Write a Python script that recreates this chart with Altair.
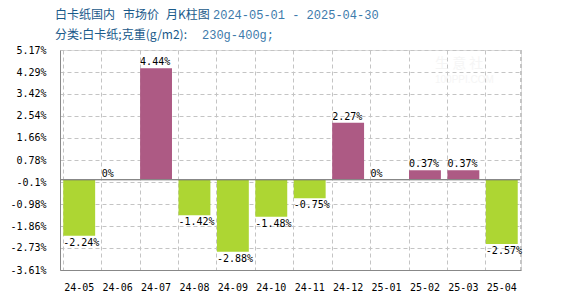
import altair as alt
import pandas as pd

months = ["24-05", "24-06", "24-07", "24-08", "24-09", "24-10",
          "24-11", "24-12", "25-01", "25-02", "25-03", "25-04"]
values = [-2.24, 0, 4.44, -1.42, -2.88, -1.48, -0.75, 2.27, 0, 0.37, 0.37, -2.57]
y_ticks = [5.17, 4.29, 3.42, 2.54, 1.66, 0.78, -0.1, -0.98, -1.86, -2.73, -3.61]

title1_parts = ["白卡纸国内", "市场价", "月K柱图"]
title1_date = "2024-05-01 - 2025-04-30"
title2 = "分类:白卡纸;克重(g/m2):"
title2_val = "230g-400g;"

df = pd.DataFrame({"month": months, "value": values})
df["label"] = [f"{v:g}%" for v in values]
df["sign"] = ["pos" if v >= 0 else "neg" for v in values]

W, H = 461, 220
FONT = "DejaVu Sans Mono"
POS = "#AD5A84"
NEG = "#ADD633"

xscale = alt.Scale(domain=months, paddingInner=0.17, paddingOuter=0.085)
yscale = alt.Scale(domain=[-3.61, 5.17], nice=False, zero=False)

xaxis = alt.Axis(labelAngle=0, ticks=False, grid=True, bandPosition=0,
                 gridDash=[4, 3], gridColor="#c4c4c4", gridWidth=1,
                 domainColor="#888888", labelFont=FONT, labelFontSize=10,
                 labelColor="#000000", labelPadding=12, labelOverlap=False, title=None)
yaxis = alt.Axis(values=y_ticks, ticks=False, grid=True,
                 gridDash=[4, 3], gridColor="#c4c4c4", gridWidth=1,
                 domainColor="#888888", labelFont=FONT, labelFontSize=10,
                 labelColor="#000000", labelPadding=14, labelOverlap=False,
                 labelExpr="datum.value + '%'", title=None)

base = alt.Chart(df)

bars = base.mark_bar().encode(
    x=alt.X("month:N", scale=xscale, sort=months, axis=xaxis),
    y=alt.Y("value:Q", scale=yscale, axis=yaxis),
    y2=alt.datum(0),
    color=alt.Color("sign:N", scale=alt.Scale(domain=["pos", "neg"], range=[POS, NEG]),
                    legend=None),
)

zero_line = base.mark_rule(color="#888888", strokeWidth=1).encode(
    y=alt.Y(datum=0, type="quantitative", scale=yscale, axis=yaxis))

right_edge = base.mark_rule(color="#c4c4c4", strokeDash=[4, 3], strokeWidth=1).encode(
    x=alt.value(W), y=alt.value(0), y2=alt.value(H))

pos_labels = base.transform_filter("datum.value >= 0").mark_text(
    align="left", baseline="bottom", dy=-1, font=FONT, fontSize=10, color="#000000"
).encode(
    x=alt.X("month:N", scale=xscale, sort=months, bandPosition=0, axis=xaxis),
    y=alt.Y("value:Q", scale=yscale, axis=yaxis),
    text="label:N",
)

neg_labels = base.transform_filter("datum.value < 0").mark_text(
    align="left", baseline="top", dy=2, font=FONT, fontSize=10, color="#000000"
).encode(
    x=alt.X("month:N", scale=xscale, sort=months, bandPosition=0, axis=xaxis),
    y=alt.Y("value:Q", scale=yscale, axis=yaxis),
    text="label:N",
)

def txt(s, x, y, color, font="Noto Sans CJK SC", size=12, opacity=1.0):
    return alt.Chart(pd.DataFrame({"t": [s]})).mark_text(
        align="left", baseline="middle", font=font, fontSize=size, color=color,
        opacity=opacity
    ).encode(text="t:N", x=alt.value(x), y=alt.value(y))

DARK = "#1a5a8a"
LIGHT = "#3d7aab"
t1a = txt(title1_parts[0], -5, -35, DARK)
t1b = txt(title1_parts[1], 63, -35, DARK)
t1c = txt(title1_parts[2], 106, -35, DARK)
t1d = txt(title1_date, 153, -35, LIGHT, font="Liberation Mono", size=12)
t2 = txt(title2, -5, -15, DARK)
t2v = txt(title2_val, 142, -15, LIGHT, font="Liberation Mono", size=12)
wm1 = txt("生 意 社", 375, 14, "#e4e4e4", size=14, opacity=0.35)
wm2 = txt("100PPI.COM", 375, 30, "#e4e4e4", font="Liberation Sans", size=10, opacity=0.35)

chart = alt.layer(
    bars, zero_line, right_edge, pos_labels, neg_labels,
    t1a, t1b, t1c, t1d, t2, t2v, wm1, wm2
).properties(
    width=W, height=H,
    autosize=alt.AutoSizeParams(type="none"),
    padding={"left": 60, "top": 50, "right": 49, "bottom": 30},
).configure_view(stroke=None).configure(background="#ffffff")

chart.save("out.html", embed_options={"renderer": "svg", "actions": False})
